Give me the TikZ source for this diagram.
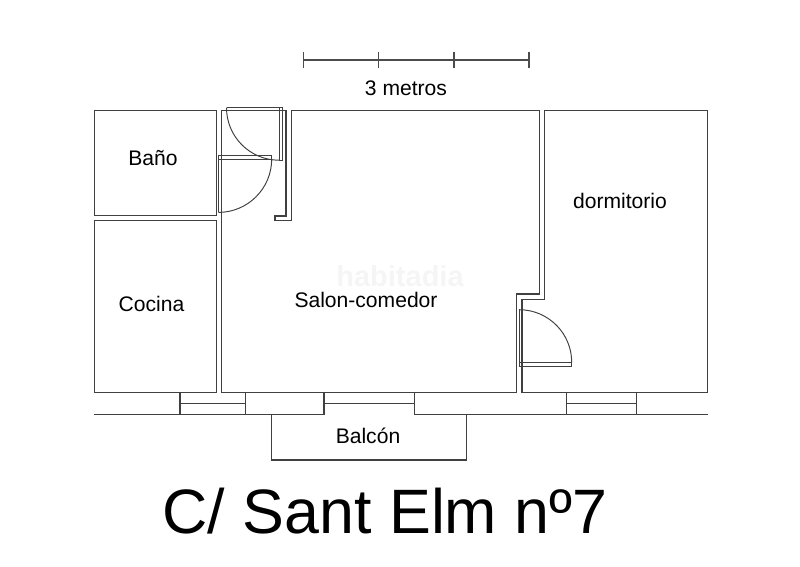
\documentclass[tikz,border=0pt]{standalone}
\usepackage{fontspec}
\setmainfont{Liberation Sans}
\tikzset{
    wall/.style={draw=black!75, line width=0.62pt},
    doorleaf/.style={draw=black!75, line width=0.55pt},
    ruler/.style={draw=black!70, line width=0.62pt},
    roomlabel/.style={font=\fontsize{12}{14}\selectfont, text=black, inner sep=0pt},
    watermark/.style={font=\bfseries\fontsize{16.5}{18}\selectfont, text=black!4, inner sep=0pt},
    titlelabel/.style={font=\fontsize{35.7}{40}\selectfont, text=black, inner sep=0pt}
}
\begin{document}
\begin{tikzpicture}[x=0.02cm, y=-0.02cm]
\useasboundingbox (0,0) rectangle (800,566);

% Scale bar
\draw[ruler] (303.7,60) -- (529,60);
\foreach \tickx in {303.7,378.7,454,529}
    \draw[ruler] (\tickx,52.3) -- (\tickx,67.7);
\node[roomlabel] (scalelabel) at (406,88) {3 metros};

% Small rooms (left)
\draw[wall] (94.3,110.3) rectangle (216.3,215.6);
\draw[wall] (94.3,220.7) rectangle (216.3,392.3);

% Living room outline
\draw[wall] (286,110.3) -- (221.5,110.3) -- (221.5,392.3) -- (516.7,392.3) -- (516.7,294) -- (539.3,294) -- (539.3,110.3) -- (291.3,110.3)
    -- (291.3,220.7) -- (275,220.7) -- (275,216) -- (286,216) -- cycle;

% Bedroom outline
\draw[wall] (544.3,110.3) -- (707.6,110.3) -- (707.6,392.3) -- (522,392.3) -- (522,299.3) -- (544.3,299.3) -- cycle;

% Door of the bathroom
\draw[doorleaf] (218.3,212) -- (218.3,155.3) -- (271.7,155.3) -- (271.7,159) -- (218.3,159);
\draw[doorleaf] (271.7,159) arc[start angle=0, end angle=90, radius=53.4];

% Entrance door
\draw[doorleaf] (226.5,107.7) -- (282.7,107.7) -- (282.7,160.7) -- (279,160.7) -- (279,107.7);
\draw[doorleaf] (226.5,107.7) arc[start angle=180, end angle=90, radius=52.5];

% Bedroom door
\draw[doorleaf] (519.3,309.3) -- (519.3,366) -- (571.7,366) -- (571.7,362.3) -- (519.3,362.3);
\draw[doorleaf] (571.7,362.3) arc[start angle=0, end angle=-90, radius=52.6];

% Facade and windows
\draw[wall] (94.3,414.7) -- (324,414.7) -- (324,392.3);
\draw[wall] (414.3,392.3) -- (414.3,414.7) -- (708,414.7);
\draw[wall] (180,392.3) -- (180,414.7);
\draw[wall] (245.7,392.3) -- (245.7,414.7);
\draw[wall] (566.7,392.3) -- (566.7,414.7);
\draw[wall] (636.7,392.3) -- (636.7,414.7);
\draw[wall] (180,403.7) -- (245.7,403.7);
\draw[wall] (324,403.7) -- (414.3,403.7);
\draw[wall] (566.7,403.7) -- (636.7,403.7);

% Balcony
\draw[wall] (271.3,414.7) -- (271.3,460) -- (466.7,460) -- (466.7,414.7);

% Labels
\node[watermark] (mark) at (400,276) {habitadia};
\node[roomlabel] (bano) at (153,158) {Baño};
\node[roomlabel] (cocina) at (151.5,304) {Cocina};
\node[roomlabel] (salon) at (366,300) {Salon-comedor};
\node[roomlabel] (dormitorio) at (620,200.5) {dormitorio};
\node[roomlabel] (balcon) at (368,436) {Balcón};
\node[titlelabel] (title) at (385,511) {C/ Sant Elm nº7};

\end{tikzpicture}
\end{document}
